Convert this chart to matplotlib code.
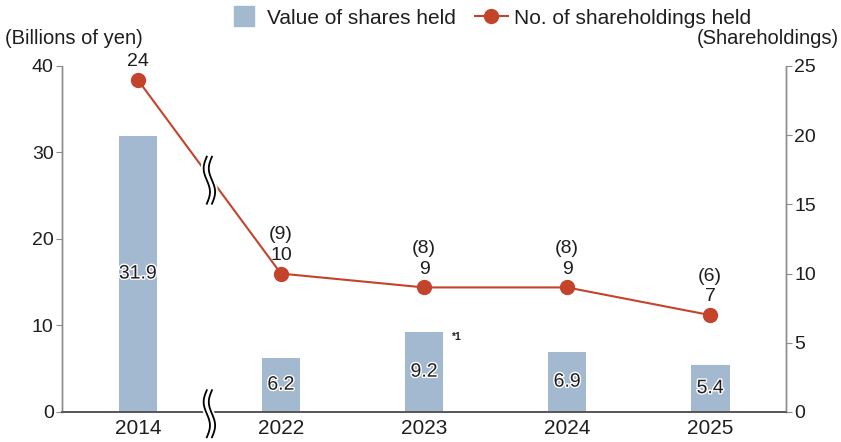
import numpy as np
import matplotlib.pyplot as plt
import matplotlib.patheffects as pe
from matplotlib.lines import Line2D

plt.rcParams['font.family'] = ['Liberation Sans', 'DejaVu Sans']

years = ['2014', '2022', '2023', '2024', '2025']
share_value = [31.9, 6.2, 9.2, 6.9, 5.4]  # billions of yen
holdings = [24, 10, 9, 9, 7]
holdings_note = ['', '(9)', '(8)', '(8)', '(6)']

bar_color = '#a3b9d0'
line_color = '#c4432b'
spine_color = '#8c8c8c'
txt_color = '#1e1e1e'

fig = plt.figure(figsize=(8.41, 4.42), dpi=100)
ax = fig.add_axes([0.0737, 0.0679, 0.861, 0.7828])
ax2 = ax.twinx()

x = np.arange(len(years))
ax.bar(x, share_value, width=0.27, color=bar_color, zorder=2)
ax.set_xlim(-0.53, 4.53)
ax.set_ylim(0, 40)
ax.set_yticks([0, 10, 20, 30, 40])
ax2.set_ylim(0, 25)
ax2.set_yticks([0, 5, 10, 15, 20, 25])

ax.set_xticks(x)
ax.set_xticklabels(years, fontsize=15, color=txt_color)
ax.tick_params(axis='x', length=0, pad=5)
ax.tick_params(axis='y', length=4, width=0.8, color=spine_color, labelsize=14,
               labelcolor=txt_color, pad=2)
ax2.tick_params(axis='y', length=4, width=0.8, color=spine_color, labelsize=14,
                labelcolor=txt_color, pad=2)

for a in (ax, ax2):
    a.spines['top'].set_visible(False)
    for s in ('left', 'right'):
        a.spines[s].set_color(spine_color)
        a.spines[s].set_linestyle((0, (1, 1)))
        a.spines[s].set_linewidth(1)
    a.spines['bottom'].set_color('#555555')
    a.spines['bottom'].set_linewidth(1.2)

# bar value labels (centred in the bar)
outline = [pe.withStroke(linewidth=2, foreground='white')]
for xi, v in zip(x, share_value):
    ax.text(xi, v / 2, f'{v}', ha='center', va='center', fontsize=14,
            color=txt_color, zorder=4, path_effects=outline)
ax.text(x[2] + 0.19, share_value[2] - 0.5, '*1', fontsize=7.5, fontweight='bold',
        ha='left', va='center', color=txt_color)

ax2.plot(x, holdings, color=line_color, lw=1.5, marker='o', markersize=10, zorder=3)
for xi, h, n in zip(x, holdings, holdings_note):
    ax2.annotate(str(h), (xi, h), xytext=(0, 7), textcoords='offset points',
                 ha='center', va='bottom', fontsize=14, color=txt_color)
    if n:
        ax2.annotate(n, (xi, h), xytext=(0, 22), textcoords='offset points',
                     ha='center', va='bottom', fontsize=14, color=txt_color)

# break marks between 2014 and 2022
def wave(axis, xc, yc):
    t = np.linspace(-1, 1, 60)
    tr = axis.get_xaxis_transform()
    for dx in (-0.018, 0.018):
        xs = xc + dx + 0.022 * np.sin(np.pi * t)
        ys = yc - 0.068 * t
        axis.plot(xs, ys, color='white', lw=4, transform=tr,
                  clip_on=False, zorder=5, solid_capstyle='butt')
    for dx in (-0.018, 0.018):
        xs = xc + dx + 0.022 * np.sin(np.pi * t)
        ys = yc - 0.068 * t
        axis.plot(xs, ys, color='black', lw=1.3, transform=tr,
                  clip_on=False, zorder=6)

wave(ax2, 0.5, 0.67)
wave(ax2, 0.5, -0.005)

fig.text(0.006, 0.912, '(Billions of yen)', fontsize=14.5, ha='left', va='center',
         color=txt_color)
fig.text(0.997, 0.912, '(Shareholdings)', fontsize=14.5, ha='right', va='center',
         color=txt_color)

handles = [Line2D([], [], ls='', marker='s', markersize=15, color=bar_color),
           Line2D([], [], color=line_color, lw=1.5, marker='o', markersize=10)]
fig.legend(handles, ['Value of shares held', 'No. of shareholdings held'],
           loc='center', bbox_to_anchor=(0.582, 0.959), ncol=2, frameon=False,
           fontsize=15, handlelength=1.6, handletextpad=0.3, columnspacing=0.9,
           labelcolor=txt_color)

plt.savefig('out.png', dpi=100)
